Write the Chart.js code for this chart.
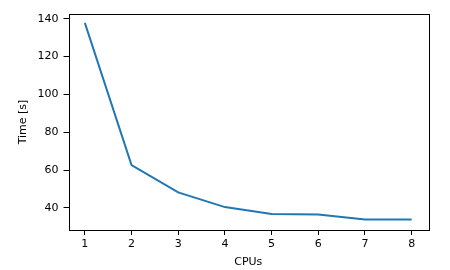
<!DOCTYPE html>
<html>
<head>
<meta charset="utf-8">
<script src="https://cdn.jsdelivr.net/npm/chart.js@4"></script>
<style>
  html, body { margin: 0; padding: 0; background: #fff; }
  #chart { display: block; }
</style>
</head>
<body>
<canvas id="chart" width="450" height="270"></canvas>
<script>
const cpus = [1, 2, 3, 4, 5, 6, 7, 8];
const times = [137.8, 62.6, 48.2, 40.4, 36.8, 36.5, 33.8, 33.9];
const xTicks = [1, 2, 3, 4, 5, 6, 7, 8];
const yTicks = [40, 60, 80, 100, 120, 140];

const font = { family: 'DejaVu Sans', size: 11 };

// matplotlib-like box around the axes
const frame = {
  id: 'frame',
  afterDraw(chart) {
    const { ctx, chartArea: a } = chart;
    ctx.save();
    ctx.strokeStyle = '#000';
    ctx.lineWidth = 1;
    ctx.strokeRect(Math.round(a.left) + 0.5, Math.round(a.top) + 0.5,
      Math.round(a.right - a.left), Math.round(a.bottom - a.top));
    ctx.restore();
  }
};

new Chart(document.getElementById('chart'), {
  type: 'line',
  data: {
    datasets: [{
      data: cpus.map((c, i) => ({ x: c, y: times[i] })),
      borderColor: '#1f77b4',
      borderWidth: 2,
      pointRadius: 0,
      tension: 0,
      fill: false
    }]
  },
  options: {
    responsive: false,
    animation: false,
    layout: { padding: { top: 14, right: 22, left: 0, bottom: 0 } },
    plugins: { legend: { display: false }, tooltip: { enabled: false } },
    scales: {
      x: {
        type: 'linear',
        min: 0.65,
        max: 8.35,
        afterBuildTicks: s => { s.ticks = xTicks.map(v => ({ value: v })); },
        afterFit: s => { s.height = 40; },
        grid: { drawOnChartArea: false, drawTicks: true, tickLength: 5, color: '#000' },
        border: { display: false },
        ticks: { font, color: '#000', padding: 3, maxRotation: 0 },
        title: { display: true, text: 'CPUs', font, color: '#000', padding: { top: 2, bottom: 1.5 } }
      },
      y: {
        min: 28.3,
        max: 142.5,
        afterBuildTicks: s => { s.ticks = yTicks.map(v => ({ value: v })); },
        afterFit: s => { s.width = 68.5; },
        grid: { drawOnChartArea: false, drawTicks: true, tickLength: 5, color: '#000' },
        border: { display: false },
        ticks: { font, color: '#000', padding: 5 },
        title: { display: true, text: 'Time [s]', font, color: '#000', padding: { top: 16.5, bottom: 4 } }
      }
    }
  },
  plugins: [frame]
});
</script>
</body>
</html>
